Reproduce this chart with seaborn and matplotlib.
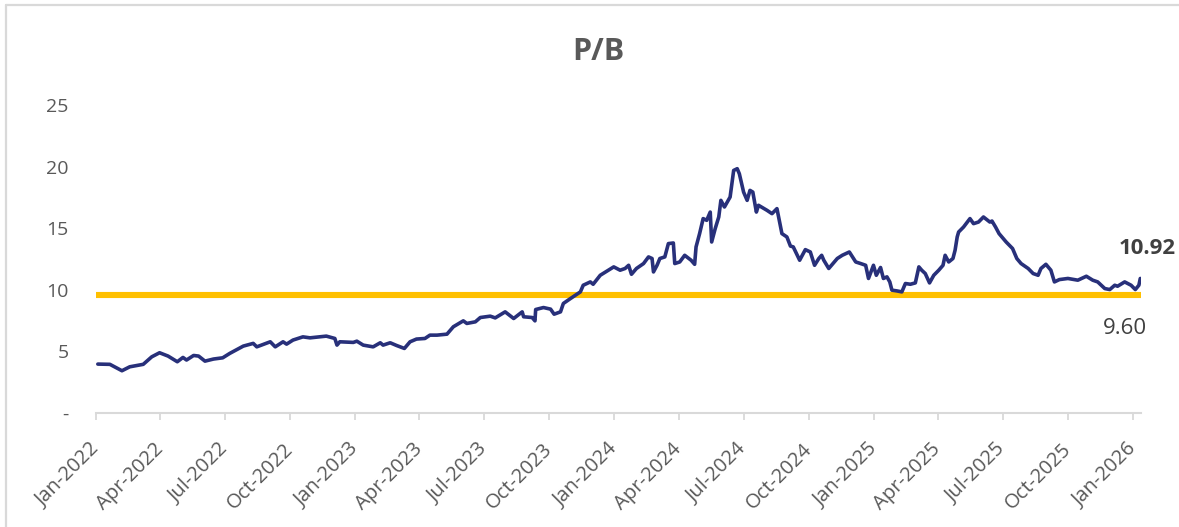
import matplotlib
matplotlib.use("Agg")
import matplotlib.pyplot as plt
import matplotlib.dates as mdates
from matplotlib.lines import Line2D
import seaborn as sns
import pandas as pd

# ---------------- data ----------------
dates = [
    "2022-01-03", "2022-01-20", "2022-02-06", "2022-02-17", "2022-03-08", "2022-03-20",
    "2022-03-31", "2022-04-12", "2022-04-25", "2022-05-03", "2022-05-08", "2022-05-18",
    "2022-05-25", "2022-06-03", "2022-06-15", "2022-06-28", "2022-07-08", "2022-07-27",
    "2022-08-10", "2022-08-15", "2022-09-03", "2022-09-10", "2022-09-21", "2022-09-26",
    "2022-10-05", "2022-10-19", "2022-10-29", "2022-11-12", "2022-11-21", "2022-12-03",
    "2022-12-06", "2022-12-10", "2022-12-29", "2023-01-03",
    "2023-01-12", "2023-01-26", "2023-02-05", "2023-02-09", "2023-02-19", "2023-02-28",
    "2023-03-11", "2023-03-19", "2023-03-28", "2023-04-09", "2023-04-16", "2023-04-26",
    "2023-05-10", "2023-05-19", "2023-06-02", "2023-06-07", "2023-06-19", "2023-06-26",
    "2023-07-10", "2023-07-17", "2023-07-31", "2023-08-12", "2023-08-24", "2023-08-26",
    "2023-09-07", "2023-09-11", "2023-09-12", "2023-09-23", "2023-10-03", "2023-10-08",
    "2023-10-17", "2023-10-21", "2023-10-31", "2023-11-14", "2023-11-18", "2023-11-28",
    "2023-12-02", "2023-12-12", "2023-12-21", "2023-12-31",
    "2024-01-09", "2024-01-16", "2024-01-21", "2024-01-25", "2024-02-01", "2024-02-11",
    "2024-02-18", "2024-02-23", "2024-02-25", "2024-03-01", "2024-03-05", "2024-03-12",
    "2024-03-17", "2024-03-24", "2024-03-26", "2024-04-02", "2024-04-09", "2024-04-18",
    "2024-04-23", "2024-04-25", "2024-04-30", "2024-05-05", "2024-05-10", "2024-05-15",
    "2024-05-17", "2024-05-22", "2024-05-27", "2024-05-30", "2024-06-04", "2024-06-12",
    "2024-06-17", "2024-06-22", "2024-06-25", "2024-07-01", "2024-07-06", "2024-07-10",
    "2024-07-14", "2024-07-19", "2024-07-22", "2024-08-03", "2024-08-10", "2024-08-17",
    "2024-08-24", "2024-08-31", "2024-09-05", "2024-09-09", "2024-09-18", "2024-09-26",
    "2024-10-03", "2024-10-09", "2024-10-15", "2024-10-19", "2024-10-22", "2024-10-29",
    "2024-11-10", "2024-11-17", "2024-11-27", "2024-12-06", "2024-12-13", "2024-12-20",
    "2024-12-24", "2024-12-31",
    "2025-01-04", "2025-01-10", "2025-01-14", "2025-01-19", "2025-01-23", "2025-01-26",
    "2025-02-02", "2025-02-09", "2025-02-14", "2025-02-21", "2025-02-28", "2025-03-05",
    "2025-03-09", "2025-03-14", "2025-03-20", "2025-03-26", "2025-04-02", "2025-04-08",
    "2025-04-11", "2025-04-16", "2025-04-22", "2025-04-25", "2025-04-28", "2025-04-30",
    "2025-05-07", "2025-05-16", "2025-05-21", "2025-05-28", "2025-06-04", "2025-06-13",
    "2025-06-16", "2025-06-21", "2025-06-26", "2025-07-06", "2025-07-15", "2025-07-21",
    "2025-07-27", "2025-08-06", "2025-08-13", "2025-08-20", "2025-08-24", "2025-08-31",
    "2025-09-07", "2025-09-12", "2025-09-19", "2025-10-01", "2025-10-15", "2025-10-27",
    "2025-11-05", "2025-11-12", "2025-11-22", "2025-11-29", "2025-12-06", "2025-12-10",
    "2025-12-20", "2025-12-29", "2026-01-04", "2026-01-09", "2026-01-11",
]
pb_values = [
    3.97, 3.95, 3.43, 3.75, 3.95, 4.56,
    4.89, 4.62, 4.16, 4.51, 4.30, 4.67,
    4.62, 4.21, 4.38, 4.48, 4.84, 5.43,
    5.65, 5.37, 5.78, 5.37, 5.78, 5.59,
    5.92, 6.18, 6.10, 6.18, 6.24, 6.05,
    5.51, 5.78, 5.73, 5.83,
    5.51, 5.37, 5.70, 5.51, 5.70, 5.48,
    5.24, 5.78, 6.00, 6.05, 6.32, 6.32,
    6.40, 7.00, 7.48, 7.27, 7.40, 7.75,
    7.86, 7.72, 8.21, 7.67, 8.21, 7.81,
    7.75, 7.48, 8.40, 8.56, 8.43, 8.02,
    8.21, 8.89, 9.29, 9.83, 10.37, 10.64,
    10.45, 11.18, 11.50, 11.86,
    11.59, 11.73, 11.99, 11.26, 11.73, 12.13,
    12.67, 12.54, 11.45, 11.99, 12.54, 12.67,
    13.75, 13.80, 12.13, 12.26, 12.80, 12.40,
    12.07, 13.48, 14.56, 15.78, 15.64, 16.31,
    13.88, 14.97, 15.91, 17.26, 16.72, 17.53,
    19.69, 19.83, 19.42, 17.93, 17.26, 18.07,
    17.93, 16.31, 16.86, 16.45, 16.18, 16.59,
    14.56, 14.29, 13.55, 13.48, 12.40, 13.26,
    13.07, 11.99, 12.54, 12.80, 12.40, 11.73,
    12.54, 12.80, 13.07, 12.26, 12.13, 11.99,
    10.92, 11.99,
    11.18, 11.81, 10.92, 11.05, 10.64, 9.97,
    9.91, 9.83, 10.51, 10.45, 10.56, 11.86,
    11.59, 11.32, 10.56, 11.18, 11.59, 11.99,
    12.80, 12.26, 12.54, 13.21, 14.29, 14.69,
    15.10, 15.78, 15.37, 15.50, 15.91, 15.50,
    15.58, 15.10, 14.56, 13.88, 13.35, 12.54,
    12.13, 11.73, 11.32, 11.18, 11.73, 12.07,
    11.59, 10.64, 10.83, 10.92, 10.78, 11.10,
    10.78, 10.64, 10.10, 10.02, 10.37, 10.29,
    10.64, 10.37, 10.02, 10.37, 10.92,
]
average_pb = 9.60
last_pb = 10.92
title_text = "P/B"
y_ticks = [0, 5, 10, 15, 20, 25]
y_tick_labels = ["-", "5", "10", "15", "20", "25"]

# ---------------- figure ----------------
sns.set_theme(style="white")
plt.rcParams["font.family"] = ["Open Sans", "DejaVu Sans"]

GRAY_TXT = "#595959"
NAVY = "#28307a"
GOLD = "#FFC000"
AXIS_GRAY = "#d9d9d9"

df = pd.DataFrame({"date": pd.to_datetime(dates), "pb": pb_values})

fig = plt.figure(figsize=(11.79, 5.27), dpi=100)
ax = fig.add_axes([96.4 / 1179, 1 - 413 / 527, (1141 - 96.4) / 1179, (413 - 105) / 527])

# average line spanning the full axis range
avg_df = pd.DataFrame({"date": pd.to_datetime(["2022-01-01", "2026-01-12"]),
                       "avg": [average_pb, average_pb]})
sns.lineplot(data=avg_df, x="date", y="avg", ax=ax, color=GOLD, linewidth=4.4,
             solid_capstyle="butt", zorder=2)
sns.lineplot(data=df, x="date", y="pb", ax=ax, color=NAVY, linewidth=2.6, zorder=3)

ax.set_xlim(pd.Timestamp("2022-01-01"), pd.Timestamp("2026-01-12"))
ax.set_ylim(0, 25)
ax.set_xlabel("")
ax.set_ylabel("")

ax.set_yticks(y_ticks)
ax.set_yticklabels(y_tick_labels)
ax.tick_params(axis="y", length=0, pad=20, labelsize=14, labelcolor=GRAY_TXT)

ax.xaxis.set_major_locator(mdates.MonthLocator(bymonth=[1, 4, 7, 10]))
ax.xaxis.set_major_formatter(mdates.DateFormatter("%b-%Y"))
ax.tick_params(axis="x", length=5, width=1.3, color=AXIS_GRAY, direction="out",
               pad=19, labelsize=14.5, labelcolor=GRAY_TXT, bottom=True)
for lab in ax.get_xticklabels():
    lab.set_rotation(45)
    lab.set_ha("right")
    lab.set_va("center")
    lab.set_rotation_mode("anchor")

for side in ["top", "right", "left"]:
    ax.spines[side].set_visible(False)
ax.spines["bottom"].set_color(AXIS_GRAY)
ax.spines["bottom"].set_linewidth(1.5)
ax.grid(False)

# title
fig.text(598 / 1179, 1 - 52 / 527, title_text, ha="center", va="center",
         fontsize=22, fontweight="bold", color=GRAY_TXT)

# value annotations
ax.annotate(f"{last_pb:.2f}", xy=(pd.Timestamp("2026-01-11"), last_pb),
            xytext=(1147 / 1179, 1 - 248 / 527), textcoords="figure fraction",
            ha="center", va="center", fontsize=16, fontweight="bold", color="#404040")
ax.annotate(f"{average_pb:.2f}", xy=(pd.Timestamp("2026-01-11"), average_pb),
            xytext=(1125 / 1179, 1 - 329 / 527), textcoords="figure fraction",
            ha="center", va="center", fontsize=16, color="#404040")

# chart-area border (left and top)
fig.add_artist(Line2D([5.5 / 1179, 5.5 / 1179], [0, 1 - 5 / 527], transform=fig.transFigure,
                      color=AXIS_GRAY, linewidth=1.6))
fig.add_artist(Line2D([5.5 / 1179, 1], [1 - 5 / 527, 1 - 5 / 527], transform=fig.transFigure,
                      color=AXIS_GRAY, linewidth=1.6))

fig.savefig("out.png", dpi=100, facecolor="white")
